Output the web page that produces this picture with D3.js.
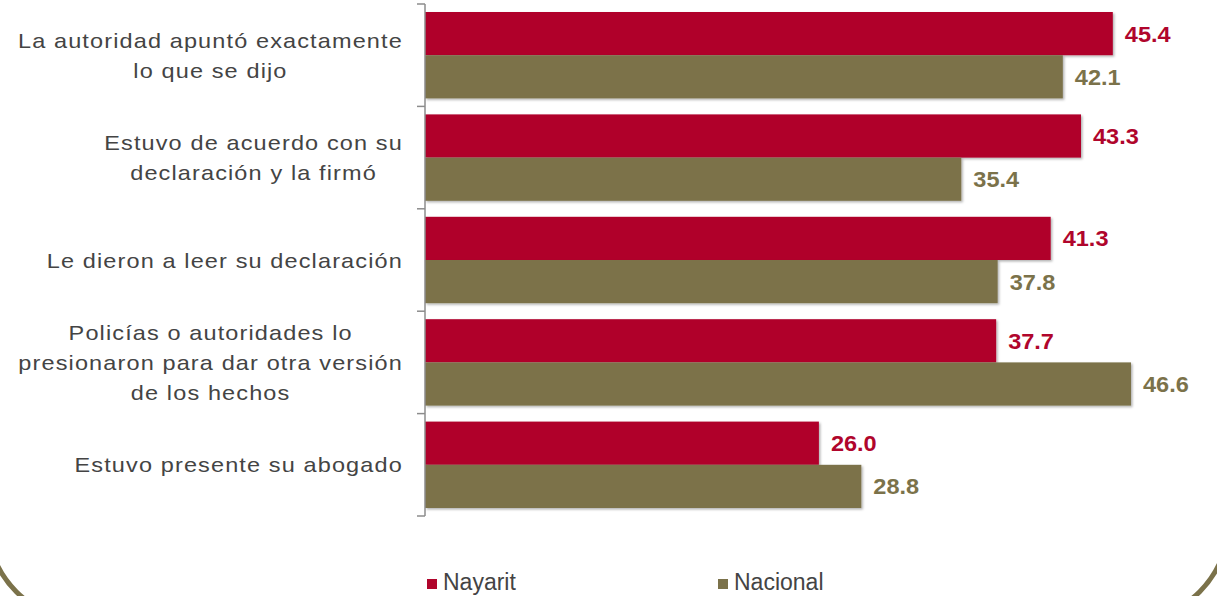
<!DOCTYPE html>
<html>
<head>
<meta charset="utf-8">
<script src="https://cdn.jsdelivr.net/npm/d3@7"></script>
<style>
  body { margin: 0; background: #fff; }
  svg { display: block; }
</style>
</head>
<body>
<div id="chart"></div>
<script>
// data
const categories = [
  ["La autoridad apuntó exactamente", "lo que se dijo"],
  ["Estuvo de acuerdo con su", "declaración y la firmó"],
  ["Le dieron a leer su declaración"],
  ["Policías o autoridades lo", "presionaron para dar otra versión", "de los hechos"],
  ["Estuvo presente su abogado"]
];
const seriesNames = ["Nayarit", "Nacional"];
const nayarit = [45.4, 43.3, 41.3, 37.7, 26.0];
const nacional = [42.1, 35.4, 37.8, 46.6, 28.8];

const W = 1217, H = 596;
const colors = {Nayarit: "#b0052c", Nacional: "#7b724a"};

const svg = d3.select("#chart").append("svg")
  .attr("width", W).attr("height", H);

// soft shadow under the bars
const defs = svg.append("defs");
const f = defs.append("filter").attr("id", "shadow")
  .attr("x", "-5%").attr("y", "-20%").attr("width", "110%").attr("height", "150%");
f.append("feDropShadow").attr("dx", 1.5).attr("dy", 1.5)
  .attr("stdDeviation", 1.2).attr("flood-color", "#000").attr("flood-opacity", 0.3);

// outer rounded frame (only the bottom corners show)
svg.append("rect")
  .attr("x", -13).attr("y", -60)
  .attr("width", 1242).attr("height", 681)
  .attr("rx", 100).attr("ry", 100)
  .attr("fill", "none")
  .attr("stroke", "#7b724a")
  .attr("stroke-width", 5);

const keys = categories.map((d, i) => i);

const y = d3.scaleBand().domain(keys).range([4, 516]);
const ySub = d3.scaleBand().domain(seriesNames).range([8, y.bandwidth() - 8]);
const x = d3.scaleLinear().domain([0, 50]).range([425, 1182.5]);

const rows = keys.map(i => ({i, values: [
  {name: "Nayarit", value: nayarit[i]},
  {name: "Nacional", value: nacional[i]}
]}));

const g = svg.append("g");

const row = g.selectAll(".row")
  .data(rows)
  .enter().append("g")
  .attr("class", "row")
  .attr("transform", d => "translate(0," + y(d.i) + ")");

row.selectAll("rect")
  .data(d => d.values)
  .enter().append("rect")
  .attr("x", x(0))
  .attr("y", d => ySub(d.name))
  .attr("width", d => x(d.value) - x(0))
  .attr("height", ySub.bandwidth())
  .attr("fill", d => colors[d.name])
  .attr("filter", "url(#shadow)");

row.selectAll(".val")
  .data(d => d.values)
  .enter().append("text")
  .attr("class", "val")
  .attr("transform", d => "translate(" + (x(d.value) + 12) + "," + (ySub(d.name) + ySub.bandwidth() / 2 + 8) + ") scale(1.07,1)")
  .attr("font-family", "Liberation Sans, Arial, sans-serif")
  .attr("font-weight", "bold")
  .attr("font-size", "22px")
  .attr("fill", d => colors[d.name])
  .text(d => d.value.toFixed(1));

// y axis: vertical line with ticks at category boundaries
const axis = g.append("g").attr("class", "axis");
axis.append("line")
  .attr("x1", x(0)).attr("x2", x(0))
  .attr("y1", y.range()[0]).attr("y2", y.range()[1])
  .attr("stroke", "#8c8c8c").attr("stroke-width", 1.5);
axis.selectAll(".tick")
  .data(keys.concat([keys.length]))
  .enter().append("line")
  .attr("x1", x(0) - 8).attr("x2", x(0))
  .attr("y1", d => y.range()[0] + d * y.step())
  .attr("y2", d => y.range()[0] + d * y.step())
  .attr("stroke", "#8c8c8c").attr("stroke-width", 1.5);

// category labels: block right-aligned, lines centered inside the block
const lineH = 30, labelRight = 403, sx = 1.12;
rows.forEach(r => {
  const lines = categories[r.i];
  const cy = y(r.i) + y.bandwidth() / 2;
  const lab = g.append("g");
  const texts = lines.map((t, k) => lab.append("text")
    .attr("font-family", "Liberation Sans, Arial, sans-serif")
    .attr("font-size", "21px")
    .attr("letter-spacing", "1px")
    .attr("fill", "#444")
    .attr("text-anchor", "middle")
    .text(t));
  const maxW = d3.max(texts, t => t.node().getComputedTextLength()) * sx;
  texts.forEach((t, k) => t.attr("transform",
    "translate(" + (labelRight - maxW / 2) + "," +
    (cy + (k - (lines.length - 1) / 2) * lineH + 7.5) + ") scale(" + sx + ",1)"));
});

// legend
const legend = svg.append("g");
const legX = [427, 718];
seriesNames.forEach((s, k) => {
  legend.append("rect")
    .attr("x", legX[k]).attr("y", 579)
    .attr("width", 10).attr("height", 10)
    .attr("fill", colors[s]);
  legend.append("text")
    .attr("x", legX[k] + 16).attr("y", 590)
    .attr("font-family", "Liberation Sans, Arial, sans-serif")
    .attr("font-size", "23px")
    .attr("fill", "#444")
    .text(s);
});
</script>
</body>
</html>
